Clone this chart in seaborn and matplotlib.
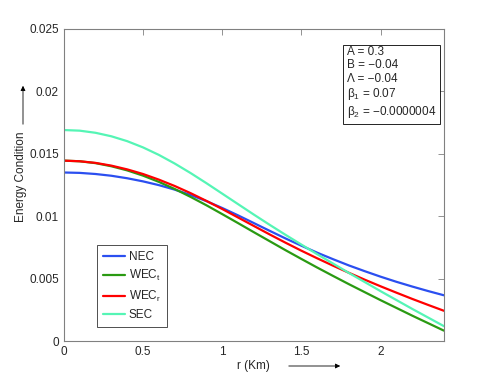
import numpy as np
import pandas as pd
import matplotlib
matplotlib.use('Agg')
import matplotlib.pyplot as plt
import seaborn as sns

# radial coordinate (Km)
r = [0.0, 0.1, 0.2, 0.3, 0.4, 0.5, 0.6, 0.7, 0.8, 0.9, 1.0, 1.1, 1.2,
     1.3, 1.4, 1.5, 1.6, 1.7, 1.8, 1.9, 2.0, 2.1, 2.2, 2.3, 2.4]

# energy conditions
nec = [0.01350, 0.01347, 0.01338, 0.01324, 0.01304, 0.01279, 0.01249,
       0.01213, 0.01170, 0.01121, 0.01066, 0.01007, 0.00945, 0.00883,
       0.00822, 0.00764, 0.00708, 0.00656, 0.00606, 0.00560, 0.00516,
       0.00475, 0.00437, 0.00401, 0.00367]
wec_t = [0.01445, 0.01440, 0.01425, 0.01400, 0.01367, 0.01325, 0.01275,
         0.01218, 0.01155, 0.01088, 0.01017, 0.00945, 0.00872, 0.00800,
         0.00728, 0.00658, 0.00589, 0.00522, 0.00456, 0.00392, 0.00328,
         0.00266, 0.00204, 0.00144, 0.00084]
wec_r = [0.01445, 0.01440, 0.01427, 0.01405, 0.01375, 0.01338, 0.01293,
         0.01242, 0.01185, 0.01123, 0.01058, 0.00990, 0.00922, 0.00854,
         0.00788, 0.00724, 0.00663, 0.00604, 0.00547, 0.00492, 0.00439,
         0.00388, 0.00338, 0.00290, 0.00243]
sec = [0.01690, 0.01685, 0.01668, 0.01640, 0.01601, 0.01551, 0.01491,
       0.01422, 0.01346, 0.01265, 0.01181, 0.01097, 0.01013, 0.00931,
       0.00851, 0.00773, 0.00696, 0.00621, 0.00546, 0.00473, 0.00400,
       0.00329, 0.00258, 0.00189, 0.00120]

names = ['NEC', 'WEC$_t$', 'WEC$_r$', 'SEC']
colors = ['#2b4ff0', '#2a9a12', '#ff0000', '#55f5b5']
yticks = [0, 0.005, 0.01, 0.015, 0.02, 0.025]
xticks = [0, 0.5, 1, 1.5, 2]
params = ['A = 0.3', 'B = \u22120.04', '\u039b = \u22120.04',
          '\u03b2$_1$ = 0.07', '\u03b2$_2$ = \u22120.0000004']

df = pd.DataFrame({'r': r * 4,
                   'value': nec + wec_t + wec_r + sec,
                   'cond': sum([[n] * len(r) for n in names], [])})

sns.set_style('white')
plt.rcParams['font.family'] = ['Liberation Sans', 'DejaVu Sans']
plt.rcParams['mathtext.fontset'] = 'custom'
plt.rcParams['mathtext.rm'] = 'Liberation Sans'
plt.rcParams['mathtext.it'] = 'Liberation Sans'
plt.rcParams['mathtext.default'] = 'regular'

fig = plt.figure(figsize=(4.91, 3.85), dpi=100)
ax = fig.add_axes([0.130, 0.114, 0.774, 0.811])

sns.lineplot(data=df, x='r', y='value', hue='cond', palette=colors,
             linewidth=1.6, ax=ax)

ax.set_xlim(0, 2.4)
ax.set_ylim(0, 0.025)
ax.set_xticks(xticks)
ax.set_xticklabels(['0', '0.5', '1', '1.5', '2'])
ax.set_yticks(yticks)
ax.set_yticklabels(['0', '0.005', '0.01', '0.015', '0.02', '0.025'])
ax.tick_params(direction='in', length=4, width=0.6, color='#808080',
               labelsize=8.5, top=True, right=True)
for s in ax.spines.values():
    s.set_color('#808080')
    s.set_linewidth(0.8)

ax.set_xlabel('')
ax.set_ylabel('')
fig.text(253 / 491, 19 / 385, 'r (Km)', ha='center', va='center', fontsize=8.5)
fig.text(21 / 491, (385 - 177) / 385, 'Energy Condition', rotation=90,
         ha='center', va='center', fontsize=8.5)
ax.annotate('', xy=(343, 19), xytext=(286, 19), xycoords='figure pixels',
            textcoords='figure pixels',
            arrowprops=dict(arrowstyle='-|>', color='black', lw=0.6,
                            mutation_scale=7))
ax.annotate('', xy=(23, 302), xytext=(23, 258), xycoords='figure pixels',
            textcoords='figure pixels',
            arrowprops=dict(arrowstyle='-|>', color='black', lw=0.6,
                            mutation_scale=7))

leg = ax.legend(loc='lower left', bbox_to_anchor=(0.087, 0.045),
                fontsize=8.5, handlelength=1.9, handletextpad=0.3,
                borderpad=0.5, labelspacing=0.45, frameon=True,
                fancybox=False, borderaxespad=0)
leg.get_frame().set_edgecolor('black')
leg.get_frame().set_linewidth(0.6)

ax.text(0.745, 0.945, '\n'.join(params), transform=ax.transAxes,
        ha='left', va='top', fontsize=8.5, linespacing=1.15,
        bbox=dict(boxstyle='square,pad=0.3', facecolor='white',
                  edgecolor='black', linewidth=0.6))

fig.savefig('out.png', dpi=100)
